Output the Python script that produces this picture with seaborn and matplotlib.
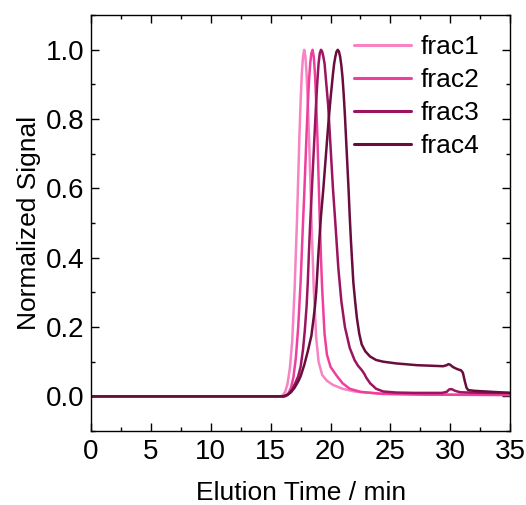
import numpy as np
import pandas as pd
import matplotlib
matplotlib.use("Agg")
import matplotlib.pyplot as plt
import seaborn as sns
from matplotlib.ticker import MultipleLocator

labels = ["frac1", "frac2", "frac3", "frac4"]
colors = ["#f783c3", "#ef3f9d", "#9c1460", "#6a0d3c"]

time1 = [0, 15.8, 16.0, 16.2, 16.4, 16.6, 16.8, 17.0, 17.1, 17.2, 17.3, 17.4, 17.5, 17.6, 17.7,
         17.8, 17.9, 18.0, 18.1, 18.2, 18.3, 18.4, 18.5, 18.6, 18.8, 19.0, 19.3, 19.7, 20.2,
         21.0, 22.0, 24.0, 28.0, 35.0]
sig1 = [0, 0, 0.003, 0.012, 0.035, 0.08, 0.16, 0.31, 0.41, 0.51, 0.63, 0.75, 0.85, 0.93, 0.98,
        1.0, 0.98, 0.93, 0.85, 0.75, 0.64, 0.52, 0.41, 0.31, 0.17, 0.1, 0.062, 0.045, 0.033,
        0.022, 0.014, 0.008, 0.005, 0.004]

time2 = [0, 16.1, 16.3, 16.5, 16.7, 16.9, 17.1, 17.3, 17.5, 17.7, 17.8, 17.9, 18.0, 18.1, 18.2,
         18.3, 18.4, 18.5, 18.6, 18.7, 18.8, 18.9, 19.0, 19.1, 19.2, 19.3, 19.5, 19.7, 20.0,
         20.5, 21.0, 21.6, 22.5, 24.4, 28.0, 35.0]
sig2 = [0, 0, 0.003, 0.01, 0.025, 0.055, 0.11, 0.2, 0.33, 0.5, 0.58, 0.67, 0.76, 0.84, 0.91,
        0.96, 0.99, 1.0, 0.98, 0.93, 0.85, 0.75, 0.63, 0.51, 0.4, 0.31, 0.18, 0.12, 0.085,
        0.06, 0.038, 0.022, 0.013, 0.007, 0.005, 0.004]

time3 = [0, 16.2, 16.5, 16.8, 17.05, 17.3, 17.5, 17.7, 17.85, 18.0, 18.1, 18.2, 18.3, 18.4, 18.5,
         18.6, 18.7, 18.8, 18.9, 19.0, 19.1, 19.2, 19.3, 19.4, 19.5, 19.6, 19.7, 19.8, 19.9,
         20.0, 20.2, 20.4, 20.65, 20.9, 21.2, 21.6, 22.0, 22.3, 22.6, 22.8, 23.0, 23.3, 23.8,
         24.4, 25.5, 27.0, 29.3, 29.7, 29.9, 30.1, 30.4, 30.8, 31.5, 33.0, 35.0]
sig3 = [0, 0, 0.007, 0.02, 0.038, 0.058, 0.085, 0.135, 0.19, 0.26, 0.33, 0.42, 0.5, 0.57, 0.64,
        0.71, 0.78, 0.85, 0.91, 0.96, 0.99, 1.0, 0.995, 0.98, 0.96, 0.92, 0.88, 0.84, 0.78,
        0.72, 0.6, 0.5, 0.37, 0.275, 0.2, 0.14, 0.105, 0.088, 0.076, 0.066, 0.053, 0.038, 0.022,
        0.014, 0.011, 0.01, 0.01, 0.013, 0.02, 0.021, 0.016, 0.012, 0.011, 0.01, 0.01]

time4 = [0, 16.0, 16.4, 16.7, 17.0, 17.3, 17.5, 17.8, 18.1, 18.4, 18.6, 18.7, 18.8, 18.9, 19.0,
         19.2, 19.4, 19.6, 19.8, 20.0, 20.2, 20.3, 20.4, 20.5, 20.6, 20.7, 20.8, 20.9, 21.0,
         21.1, 21.2, 21.3, 21.4, 21.5, 21.6, 21.7, 21.8, 21.9, 22.05, 22.2, 22.4, 22.6, 22.9,
         23.3, 23.8, 24.4, 25.5, 27.2, 29.4, 29.7, 29.85, 30.0, 30.2, 30.55, 30.9, 31.05, 31.2,
         31.35, 31.5, 32.0, 33.5, 35.0]
sig4 = [0, 0, 0.004, 0.012, 0.025, 0.043, 0.058, 0.09, 0.13, 0.175, 0.23, 0.26, 0.3, 0.36, 0.42,
        0.52, 0.6, 0.69, 0.78, 0.86, 0.93, 0.96, 0.98, 0.995, 1.0, 0.995, 0.98, 0.955, 0.92,
        0.87, 0.81, 0.74, 0.67, 0.6, 0.52, 0.45, 0.39, 0.33, 0.275, 0.226, 0.18, 0.15, 0.13,
        0.115, 0.105, 0.1, 0.095, 0.09, 0.087, 0.09, 0.093, 0.091, 0.085, 0.079, 0.075, 0.068, 0.045,
        0.025, 0.018, 0.016, 0.013, 0.01]

frames = []
for lab, t, s in zip(labels, [time1, time2, time3, time4], [sig1, sig2, sig3, sig4]):
    frames.append(pd.DataFrame({"time": t, "signal": s, "fraction": lab}))
df = pd.concat(frames, ignore_index=True)

sns.set_theme(style="ticks")
plt.rcParams["font.family"] = ["Liberation Sans", "DejaVu Sans"]
plt.rcParams["text.color"] = "black"
plt.rcParams["axes.labelcolor"] = "black"
plt.rcParams["xtick.color"] = "black"
plt.rcParams["ytick.color"] = "black"

fig = plt.figure(figsize=(5.26, 5.05), dpi=100)
ax = fig.add_axes([0.173, 0.1465, 0.797, 0.8235])

sns.lineplot(data=df, x="time", y="signal", hue="fraction", hue_order=labels,
             palette=colors, sort=False, estimator=None, units="fraction",
             linewidth=1.8, ax=ax)

ax.set_xlim(0, 35)
ax.set_ylim(-0.1, 1.1)
ax.xaxis.set_major_locator(MultipleLocator(5))
ax.xaxis.set_minor_locator(MultipleLocator(2.5))
ax.set_yticks([0.0, 0.2, 0.4, 0.6, 0.8, 1.0])
ax.set_yticklabels(["0.0", "0.2", "0.4", "0.6", "0.8", "1.0"])
ax.yaxis.set_minor_locator(MultipleLocator(0.1))
ax.tick_params(which="both", top=True, right=True, direction="in", labelsize=20,
               color="black", labelcolor="black", width=1.0)
ax.tick_params(which="major", length=6, pad=6)
ax.tick_params(axis="y", which="major", pad=5)
ax.tick_params(which="minor", length=3)
for sp in ax.spines.values():
    sp.set_linewidth(1.0)
    sp.set_color("black")

ax.set_xlabel("Elution Time / min", fontsize=19, labelpad=11.5, color="black")
ax.set_ylabel("Normalized Signal", fontsize=19, labelpad=3, color="black")

leg = ax.legend(loc="upper right", frameon=False, fontsize=19, handlelength=2.15,
                labelspacing=0.34, handletextpad=0.38, borderaxespad=0.0,
                bbox_to_anchor=(0.952, 0.977))
for line in leg.get_lines():
    line.set_linewidth(2.2)
for txt in leg.get_texts():
    txt.set_color("black")

fig.savefig("out.png", dpi=100)
